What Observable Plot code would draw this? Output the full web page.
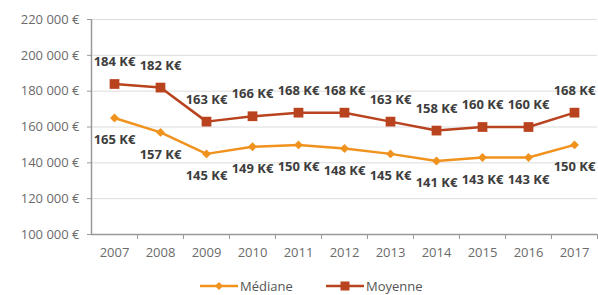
<!DOCTYPE html>
<html>
<head>
<meta charset="utf-8">
<script src="https://cdn.jsdelivr.net/npm/d3@7"></script>
<script src="https://cdn.jsdelivr.net/npm/@observablehq/plot@0.6"></script>
<style>
  html, body { margin: 0; padding: 0; background: #fff; }
  #wrap { position: relative; width: 598px; height: 295px; font-family: "Open Sans", sans-serif; }
  #legend { position: absolute; left: 0; top: 262px; width: 598px; height: 33px; }
  .item { position: absolute; top: 24px; display: flex; align-items: center; font-size: 13px; line-height: 15px; color: #555; }
  .item svg { margin-right: 2px; }
</style>
</head>
<body>
<div id="wrap"><div id="chart"></div><div id="legend"></div></div>
<script>
const years = ["2007","2008","2009","2010","2011","2012","2013","2014","2015","2016","2017"];
const mediane = [165,157,145,149,150,148,145,141,143,143,150];
const moyenne = [184,182,163,166,168,168,163,158,160,160,168];
const yTicks = [100000,120000,140000,160000,180000,200000,220000];
const seriesNames = ["Médiane","Moyenne"];
const colors = {"Médiane": "#f0921e", "Moyenne": "#b8431e"};

const medData = years.map((y,i) => ({year: y, v: mediane[i]*1000, label: mediane[i] + " K€"}));
const moyData = years.map((y,i) => ({year: y, v: moyenne[i]*1000, label: moyenne[i] + " K€"}));

const fmt = d => d3.format(",")(d).replace(/,/g, " ") + " €";

const chart = Plot.plot({
  width: 598,
  height: 262,
  marginTop: 19,
  marginBottom: 28,
  marginLeft: 91,
  marginRight: 1,
  style: {fontFamily: "Open Sans, sans-serif", fontSize: "13px", color: "#6b6b6b"},
  x: {type: "point", domain: years, padding: 0.5, label: null},
  y: {domain: [100000, 220000], label: null},
  marks: [
    Plot.gridY(yTicks, {stroke: "#dcdcdc", strokeOpacity: 1, strokeWidth: 1}),
    Plot.axisY(yTicks, {tickFormat: fmt, tickSize: 4, tickPadding: 8, stroke: "#999", fill: "#6b6b6b", fontSize: 13, label: null}),
    Plot.axisX(years, {tickSize: 0, tickPadding: 13, fill: "#6b6b6b", fontSize: 13, label: null}),
    Plot.axisX(years, {tickSize: 5, tickFormat: () => "", dx: 23, stroke: "#999", label: null}),
    Plot.ruleY([100000], {stroke: "#999", strokeWidth: 1.5}),
    Plot.ruleX([years[0]], {dx: -23, stroke: "#999", strokeWidth: 1.5}),
    Plot.line(medData, {x: "year", y: "v", stroke: colors["Médiane"], strokeWidth: 2.5}),
    Plot.dot(medData, {x: "year", y: "v", symbol: "diamond2", r: 4, fill: colors["Médiane"], stroke: "none"}),
    Plot.line(moyData, {x: "year", y: "v", stroke: colors["Moyenne"], strokeWidth: 2.5}),
    Plot.dot(moyData, {x: "year", y: "v", symbol: "square", r: 5.5, fill: colors["Moyenne"], stroke: "none"}),
    Plot.text(moyData, {x: "year", y: "v", text: "label", dy: -22, fill: "#3d3d3d", fontWeight: "bold", fontSize: 13}),
    Plot.text(medData, {x: "year", y: "v", text: "label", dy: 22, fill: "#3d3d3d", fontWeight: "bold", fontSize: 13})
  ]
});
document.getElementById("chart").appendChild(chart);

// legend
const legend = document.getElementById("legend");
const lefts = [200, 326];
seriesNames.forEach((name, i) => {
  const div = document.createElement("div");
  div.className = "item";
  div.style.left = lefts[i] + "px";
  div.style.transform = "translateY(-50%)";
  const marker = i === 0
    ? `<path d="M19,5 L23,9 L19,13 L15,9 Z" fill="${colors[name]}"/>`
    : `<rect x="14.5" y="4.5" width="9" height="9" fill="${colors[name]}"/>`;
  div.innerHTML = `<svg width="38" height="18"><line x1="0" x2="38" y1="9" y2="9" stroke="${colors[name]}" stroke-width="2.5"/>${marker}</svg><span>${name}</span>`;
  legend.appendChild(div);
});
</script>
</body>
</html>
